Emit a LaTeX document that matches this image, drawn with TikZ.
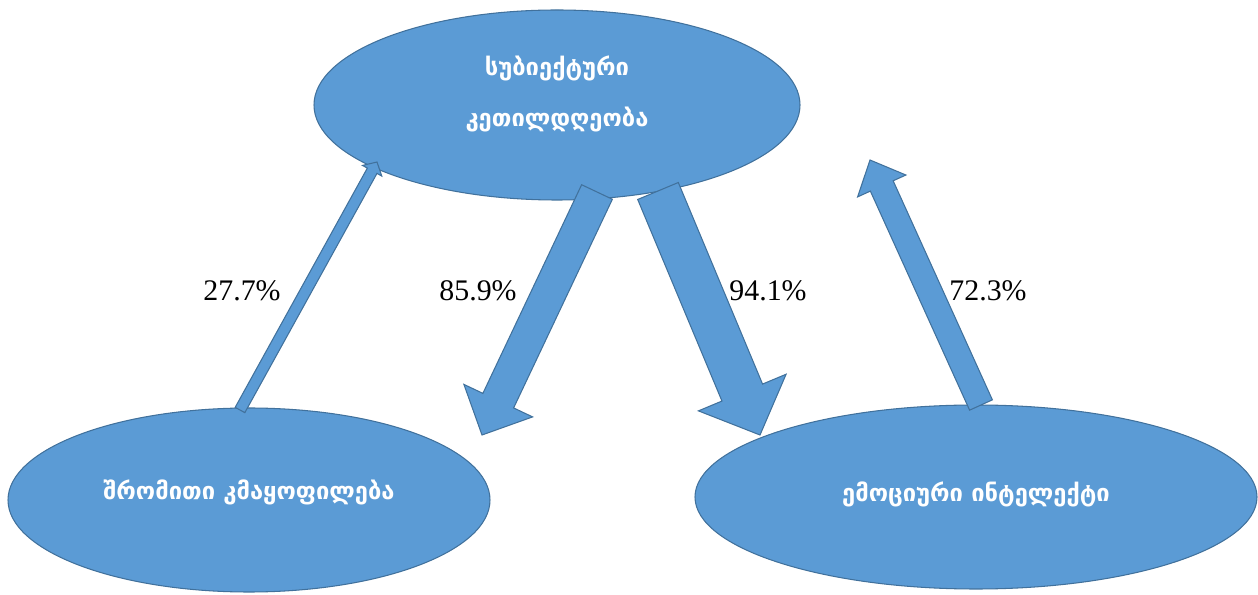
\documentclass[tikz,border=0pt]{standalone}
\usepackage{fontspec}
\setmainfont{Liberation Serif}
\newfontfamily\geofont{DejaVu Sans}
\usepackage{tikz}
\usetikzlibrary{shapes,arrows,positioning,calc}

\definecolor{ovalblue}{RGB}{91,155,213}
\definecolor{ovalline}{RGB}{65,113,156}

% block arrow: start, tip, shaft half width, head half width, head length
\newcommand{\blockarr}[5]{%
  \coordinate (hb) at ($(#2)!#5!(#1)$);
  \filldraw[arrowbody] ($(#1)!#3!90:(#2)$) -- ($(hb)!#3!90:(#2)$) -- ($(hb)!#4!90:(#2)$) -- (#2)
    -- ($(hb)!#4!-90:(#2)$) -- ($(hb)!#3!-90:(#2)$) -- ($(#1)!#3!-90:(#2)$) -- cycle;}

\begin{document}
\begin{tikzpicture}[
  oval/.style={ellipse, fill=ovalblue, draw=ovalline, line width=0.6pt, inner sep=0pt,
    text=white, align=center, font=\geofont\bfseries\fontsize{13.5}{29}\selectfont},
  arrowbody/.style={fill=ovalblue, draw=ovalline, line width=0.6pt, line join=miter},
  pct/.style={font=\fontsize{17}{20}\selectfont, inner sep=0pt}]
\useasboundingbox (0,0) rectangle (25.16,-11.9);

\node[oval, minimum width=9.72cm, minimum height=3.8cm, text depth=0.55cm] (swb) at (11.14,-2.10) {სუბიექტური\\კეთილდღეობა};
\node[oval, minimum width=9.64cm, minimum height=3.68cm, text depth=0.4cm] (job) at (4.98,-10.0) {შრომითი კმაყოფილება};
\node[oval, minimum width=11.24cm, minimum height=3.68cm, text depth=0.2cm] (emo) at (19.52,-9.94) {ემოციური ინტელექტი};

\coordinate (jobOut) at (4.80,-8.20);
\coordinate (swbInL) at (7.54,-3.24);
\coordinate (swbOutL) at (11.94,-3.84);
\coordinate (jobIn) at (9.64,-8.70);
\coordinate (swbOutR) at (13.16,-3.82);
\coordinate (emoIn) at (15.20,-8.70);
\coordinate (emoOut) at (19.62,-8.10);
\coordinate (swbInR) at (17.40,-3.20);

\blockarr{jobOut}{swbInL}{0.11cm}{0.22cm}{0.2cm}
\blockarr{swbOutL}{jobIn}{0.34cm}{0.76cm}{0.76cm}
\blockarr{swbOutR}{emoIn}{0.44cm}{0.95cm}{0.92cm}
\blockarr{emoOut}{swbInR}{0.25cm}{0.53cm}{0.57cm}

\node[pct] (pJob) at (4.84,-5.82) {27.7\%};
\node[pct] (pJobIn) at (9.56,-5.82) {85.9\%};
\node[pct] (pEmoIn) at (15.36,-5.82) {94.1\%};
\node[pct] (pEmo) at (19.76,-5.82) {72.3\%};
\end{tikzpicture}
\end{document}
